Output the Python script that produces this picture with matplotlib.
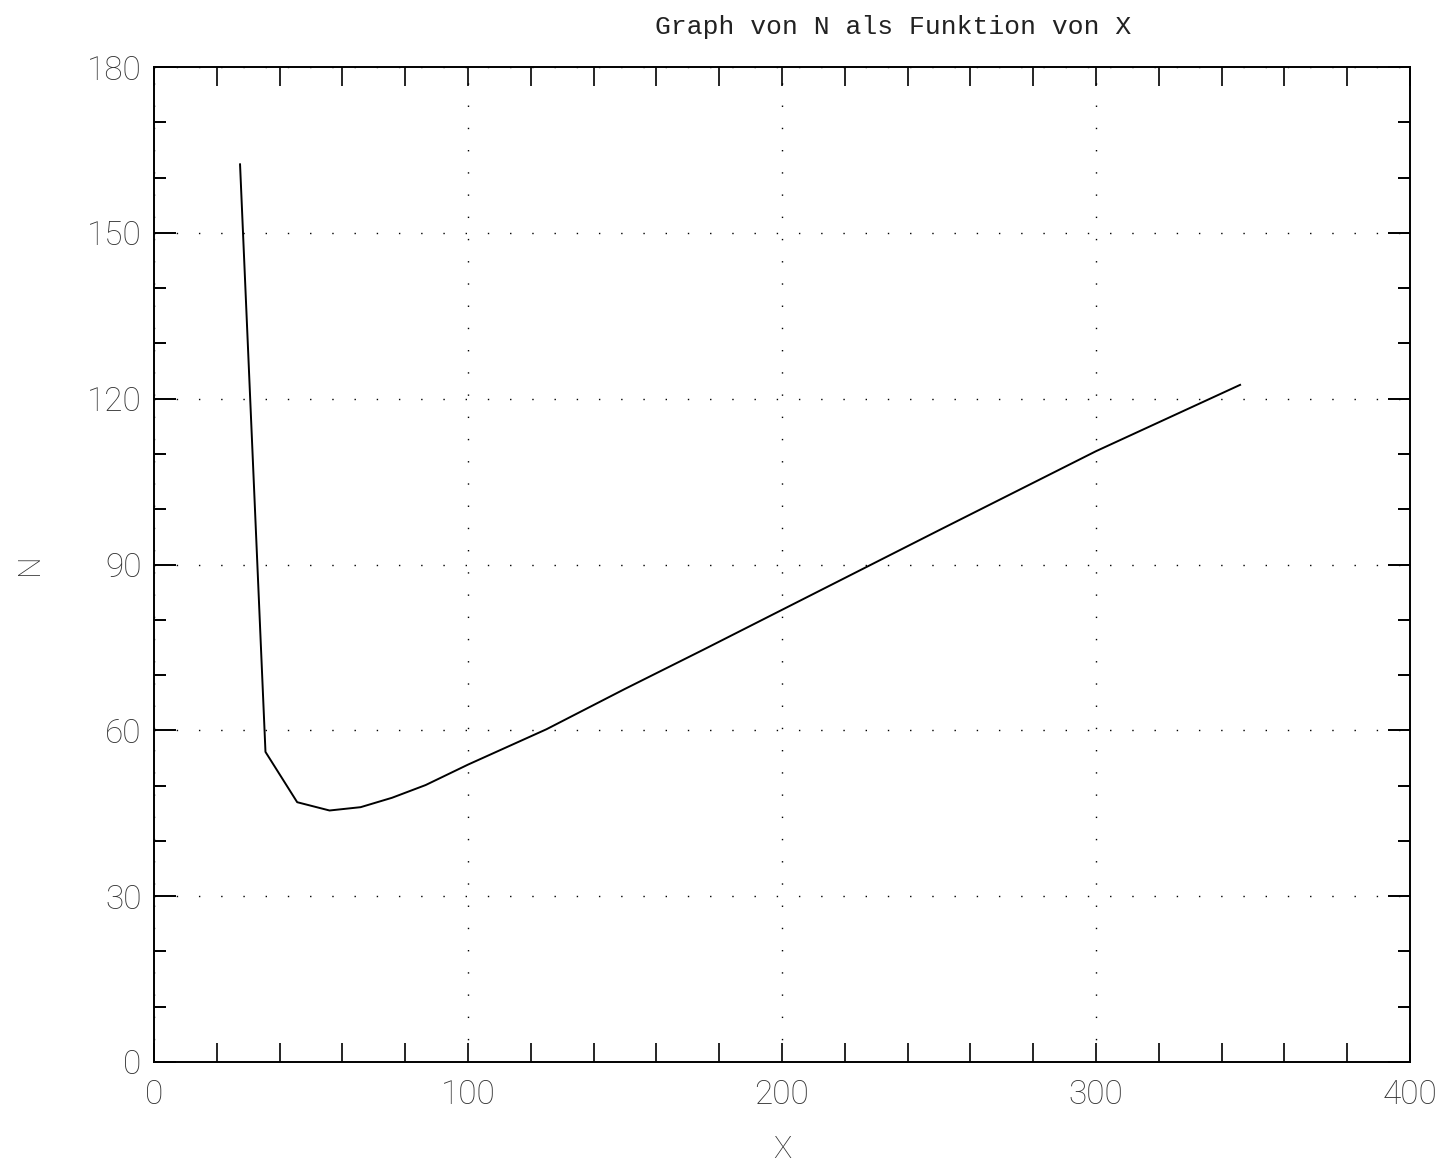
import matplotlib
matplotlib.use("Agg")
import matplotlib.pyplot as plt
from matplotlib.ticker import MultipleLocator

# values
x_vals = [27.4, 35.5, 45.6, 55.9, 65.8, 75.8, 86.5, 100, 125, 150, 175, 200, 250, 300, 345.9]
n_vals = [162.4, 56.1, 47.0, 45.5, 46.1, 47.8, 50.1, 53.8, 60.2, 67.5, 74.6, 81.8, 96.2, 110.5, 122.5]

x_ticks = [0, 100, 200, 300, 400]
y_ticks = [0, 30, 60, 90, 120, 150, 180]

tick_font = ['Roboto', 'DejaVu Sans']

fig = plt.figure(figsize=(14.38, 11.66), dpi=100)
ax = fig.add_axes([0.1071, 0.0892, 0.8734, 0.8533])

ax.plot(x_vals, n_vals, color='black', linewidth=1.4)

ax.set_xlim(0, 400)
ax.set_ylim(0, 180)
ax.set_xticks(x_ticks)
ax.set_yticks(y_ticks)
ax.xaxis.set_minor_locator(MultipleLocator(20))
ax.yaxis.set_minor_locator(MultipleLocator(10))

# dotted grid at the major ticks
ax.grid(True, which='major', color='black', linestyle=(0, (1, 15)), linewidth=1.0)

ax.tick_params(axis='x', which='both', direction='in', length=14, width=1.2,
               top=True, bottom=True, pad=12, labelsize=24, labelcolor='#333333')
ax.tick_params(axis='y', which='major', direction='in', length=16, width=1.4,
               left=True, right=True, pad=9, labelsize=24, labelcolor='#333333')
ax.tick_params(axis='y', which='minor', direction='in', length=8.5, width=1.4,
               left=True, right=True)
for lab in ax.get_xticklabels() + ax.get_yticklabels():
    lab.set_family(tick_font)
    lab.set_weight('light')

for s in ax.spines.values():
    s.set_linewidth(1.4)
    s.set_color('black')

ax.set_xlabel('X', family=tick_font, weight='light', fontsize=22, color='#333333', va='center')
ax.set_ylabel('N', family=tick_font, weight='light', fontsize=22, color='#333333', va='center')
ax.xaxis.set_label_coords(0.5, -0.088)
ax.yaxis.set_label_coords(-0.099, 0.5)

fig.text(0.621, 0.977, 'Graph von N als Funktion von X', family='Liberation Mono',
         fontsize=19, ha='center', va='center', color='#222222')

fig.savefig('out.png', dpi=100)
